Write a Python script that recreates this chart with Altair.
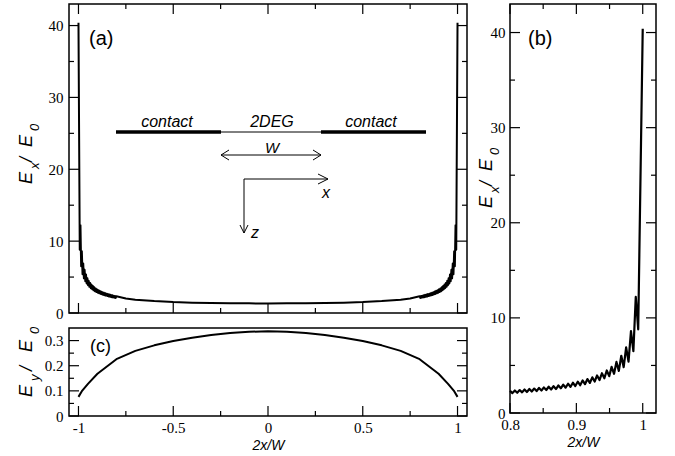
import altair as alt
import pandas as pd

# ---------------- data ----------------
# Panel (b): E_x/E_0 close to the edge (2x/W from 0.8 to 1): ripple peaks and troughs
edge_x = [0.8000, 0.8036, 0.8073, 0.8109, 0.8146, 0.8182, 0.8219, 0.8255, 0.8292, 0.8328,
          0.8365, 0.8401, 0.8437, 0.8474, 0.8510, 0.8547, 0.8583, 0.8620, 0.8656, 0.8693,
          0.8729, 0.8766, 0.8802, 0.8838, 0.8875, 0.8911, 0.8948, 0.8984, 0.9021, 0.9057,
          0.9094, 0.9130, 0.9167, 0.9203, 0.9240, 0.9276, 0.9312, 0.9349, 0.9385, 0.9422,
          0.9458, 0.9495, 0.9531, 0.9568, 0.9604, 0.9640, 0.9677, 0.9713, 0.9750, 0.9786,
          0.9823, 0.9859, 0.9895, 0.9932, 1.0000]
edge_y = [2.33, 2.09, 2.37, 2.13, 2.41, 2.17, 2.47, 2.21, 2.52, 2.26,
          2.57, 2.30, 2.63, 2.36, 2.69, 2.42, 2.76, 2.47, 2.82, 2.52,
          2.90, 2.60, 2.98, 2.66, 3.08, 2.74, 3.18, 2.83, 3.29, 2.92,
          3.42, 3.03, 3.57, 3.16, 3.75, 3.31, 3.95, 3.46, 4.18, 3.65,
          4.47, 3.87, 4.85, 4.12, 5.37, 4.43, 6.02, 4.82, 6.90, 5.40,
          8.60, 6.50, 12.20, 8.80, 40.40]
# Panel (a): central part of E_x/E_0 (the edges are the same ripple, mirrored)
mid_x = [-0.75, -0.7, -0.6, -0.5, -0.4, -0.3, -0.2, -0.1, 0.0,
         0.1, 0.2, 0.3, 0.4, 0.5, 0.6, 0.7, 0.75]
mid_y = [2.01, 1.86, 1.66, 1.52, 1.44, 1.39, 1.36, 1.34, 1.33,
         1.34, 1.36, 1.39, 1.44, 1.52, 1.66, 1.86, 2.01]
# Panel (c): E_y/E_0
ey_x = [-1.0, -0.98, -0.95, -0.9, -0.8, -0.7, -0.6, -0.5, -0.4, -0.3, -0.2, -0.1, 0.0,
        0.1, 0.2, 0.3, 0.4, 0.5, 0.6, 0.7, 0.8, 0.9, 0.95, 0.98, 1.0]
ey_y = [0.076, 0.101, 0.128, 0.168, 0.226, 0.259, 0.281, 0.298, 0.311, 0.322, 0.330, 0.335, 0.337,
        0.335, 0.330, 0.322, 0.311, 0.298, 0.281, 0.259, 0.226, 0.168, 0.128, 0.101, 0.076]

# tick values
a_x_major = [-1, -0.5, 0, 0.5, 1]
a_x_minor = [-0.75, -0.25, 0.25, 0.75]
ex_major = [0, 10, 20, 30, 40]
ex_minor = [5, 15, 25, 35]
c_y_major = [0, 0.1, 0.2, 0.3]
c_y_minor = [0.05, 0.15, 0.25]
b_x_major = [0.8, 0.9, 1.0]
b_x_minor = [0.85, 0.95]

# axis ranges
ax_dom = [-1.05, 1.05]
ex_dom = [0, 43]
ey_dom = [0, 0.35]
bx_dom = [0.8, 1.02]

xa = [-v for v in reversed(edge_x)] + mid_x + edge_x
ya = list(reversed(edge_y)) + mid_y + edge_y

df_a = pd.DataFrame({"x": xa, "y": ya})
df_b = pd.DataFrame({"x": edge_x, "y": edge_y})
df_c = pd.DataFrame({"x": ey_x, "y": ey_y})

# ---------------- layout constants ----------------
W_A, H_A, H_C, W_B, H_B = 398, 309, 88, 146, 409
MAJ, MIN = 10, 5
ONE = pd.DataFrame({"k": [0]})
SANS = "Liberation Sans"
SERIF = "Liberation Serif"


def yaxis(vals, pad=6):
    return alt.Axis(values=vals, labelExpr="toString(datum.value)", title=None,
                    ticks=False, domain=False, grid=False, labelPadding=pad,
                    labelFont=SERIF, labelFontSize=15, labelColor="black",
                    labelOverlap=False)


def xaxis(vals, pad=4):
    return alt.Axis(values=vals, labelExpr="toString(datum.value)", title="2x/W",
                    titleFont=SANS, titleFontStyle="italic", titleFontWeight="normal",
                    titleFontSize=14, titleColor="black", titlePadding=3,
                    ticks=False, domain=False, grid=False, labelPadding=pad,
                    labelFont=SERIF, labelFontSize=15, labelColor="black",
                    labelFlush=False, labelOverlap=False)


def txt(s, x, y, size, style="italic", align="center", baseline="alphabetic", angle=None):
    kw = dict(text=s, font=SANS, fontSize=size, fontStyle=style, align=align,
              baseline=baseline, color="black")
    if angle is not None:
        kw["angle"] = angle
    return alt.Chart(ONE).mark_text(**kw).encode(x=alt.value(x), y=alt.value(y))


def seg(x1, y1, x2, y2, w):
    enc = dict(x=alt.value(x1), y=alt.value(y1))
    if x1 != x2:
        enc["x2"] = alt.value(x2)
    if y1 != y2:
        enc["y2"] = alt.value(y2)
    return alt.Chart(ONE).mark_rule(color="black", strokeWidth=w, strokeCap="butt").encode(**enc)


def head(x, y, path, size):
    return alt.Chart(ONE).mark_point(shape=path, filled=False, color="black", strokeWidth=1,
                                     size=size, opacity=1).encode(x=alt.value(x), y=alt.value(y))


def ytitle(x, y_e, y_sub, y_sl, y_e2, y_0, sub):
    return [
        txt("E", x, y_e, 18, align="left", angle=270),
        txt(sub, x + 7, y_sub, 13, align="left", angle=270),
        txt("/", x, y_sl, 18, align="left", angle=270),
        txt("E", x, y_e2, 18, align="left", angle=270),
        txt("0", x + 7, y_0, 13, align="left", angle=270),
    ]


def panel(df, xdom, ydom, xax, yax, W, H, xmaj, xmin, ymaj, ymin, top_ticks, extras, sw=2):
    xsc = alt.Scale(domain=xdom, nice=False, zero=False)
    ysc = alt.Scale(domain=ydom, nice=False, zero=False)
    main = alt.Chart(df).mark_line(color="black", strokeWidth=sw, strokeJoin="round").encode(
        x=alt.X("x:Q", scale=xsc, axis=xax), y=alt.Y("y:Q", scale=ysc, axis=yax))

    # inward frame ticks (axis decoration), positioned with the same linear mapping as the scales
    def px(v):
        return (v - xdom[0]) / (xdom[1] - xdom[0]) * W

    def py(v):
        return H - (v - ydom[0]) / (ydom[1] - ydom[0]) * H

    ticks = []
    for vals, L in ((xmaj, MAJ), (xmin, MIN)):
        for v in vals:
            ticks.append(seg(px(v), H - L, px(v), H, 1.2))
            if top_ticks:
                ticks.append(seg(px(v), 0, px(v), L, 1.2))
    for vals, L in ((ymaj, MAJ), (ymin, MIN)):
        for v in vals:
            ticks.append(seg(0, py(v), L, py(v), 1.2))
            ticks.append(seg(W - L, py(v), W, py(v), 1.2))
    return alt.layer(main, *ticks, *extras).properties(width=W, height=H)


# inset sketch of panel (a)
inset = [
    seg(47, 128, 152, 128, 3.5),
    seg(152, 128, 252, 128, 1),
    seg(252, 128, 357, 128, 3.5),
    txt("contact", 98, 123, 16),
    txt("2DEG", 203, 123, 16),
    txt("contact", 302, 123, 16),
    seg(152, 151, 252, 151, 1),
    head(152, 151, "M 1.6 -1 L 0 0 L 1.6 1", 100),
    head(252, 151, "M -1.6 -1 L 0 0 L -1.6 1", 100),
    txt("W", 203, 149, 15),
    seg(175, 175, 259, 175, 1),
    head(259, 175, "M -2 -1 L 0 0 L -2 1", 100),
    seg(175, 175, 175, 229, 1),
    head(175, 229, "M -1 -2 L 0 0 L 1 -2", 64),
    txt("x", 257, 194, 16),
    txt("z", 182, 234, 16, align="left"),
    txt("(a)", 20, 35, 20, style="normal", align="left", baseline="middle"),
]

pa = panel(df_a, ax_dom, ex_dom, None, yaxis(ex_major), W_A, H_A,
           a_x_major, a_x_minor, ex_major, ex_minor, True,
           ytitle(-37, 180, 165, 158, 143, 127, "x") + inset)

pc = panel(df_c, ax_dom, ey_dom, xaxis(a_x_major), yaxis(c_y_major), W_A, H_C,
           a_x_major, a_x_minor, c_y_major, c_y_minor, False,
           ytitle(-37, 69, 53, 43, 24, 6, "y") +
           [txt("(c)", 21, 19, 18, style="normal", align="left", baseline="middle")])

pb = panel(df_b, bx_dom, ex_dom, xaxis(b_x_major), yaxis(ex_major, pad=5), W_B, H_B,
           b_x_major, b_x_minor, ex_major, ex_minor, True,
           ytitle(-18, 204, 189, 182, 167, 151, "x") +
           [txt("(b)", 18, 35, 20, style="normal", align="left", baseline="middle")],
           sw=2.2)

left = alt.vconcat(pa, pc, spacing=4)
chart = (alt.hconcat(left, pb, spacing=8)
         .properties(padding={"left": 17, "top": 2, "right": 5, "bottom": 0})
         .configure_view(stroke="black", strokeWidth=1.5))

chart.save("out.html", embed_options={"renderer": "svg", "actions": False})
